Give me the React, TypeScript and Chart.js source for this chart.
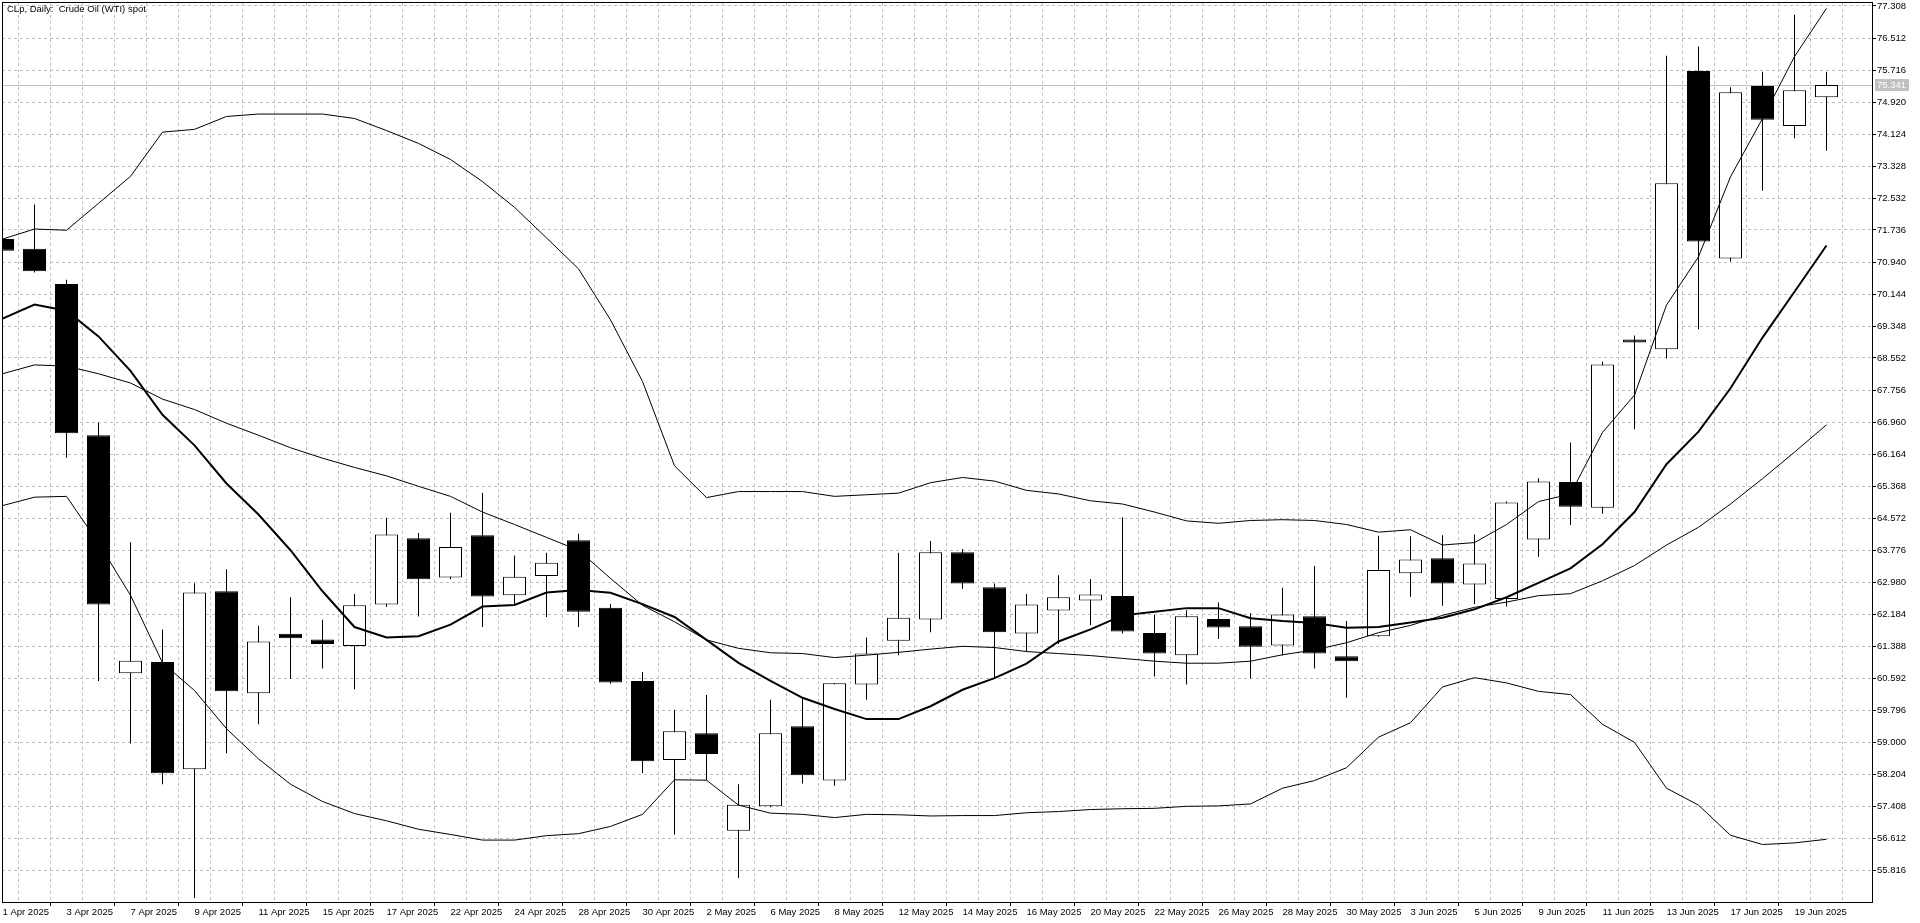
import React, { useEffect, useRef } from "react";
import { Chart, registerables } from "chart.js";

Chart.register(...registerables);

const TITLE = "CLp, Daily:  Crude Oil (WTI) spot";

const dates = [
  "1 Apr 2025", "2 Apr 2025", "3 Apr 2025", "4 Apr 2025", "7 Apr 2025", "8 Apr 2025", "9 Apr 2025",
  "10 Apr 2025", "11 Apr 2025", "14 Apr 2025", "15 Apr 2025", "16 Apr 2025", "17 Apr 2025", "21 Apr 2025",
  "22 Apr 2025", "23 Apr 2025", "24 Apr 2025", "25 Apr 2025", "28 Apr 2025", "29 Apr 2025", "30 Apr 2025",
  "1 May 2025", "2 May 2025", "5 May 2025", "6 May 2025", "7 May 2025", "8 May 2025", "9 May 2025",
  "12 May 2025", "13 May 2025", "14 May 2025", "15 May 2025", "16 May 2025", "19 May 2025", "20 May 2025",
  "21 May 2025", "22 May 2025", "23 May 2025", "26 May 2025", "27 May 2025", "28 May 2025", "29 May 2025",
  "30 May 2025", "2 Jun 2025", "3 Jun 2025", "4 Jun 2025", "5 Jun 2025", "6 Jun 2025", "9 Jun 2025",
  "10 Jun 2025", "11 Jun 2025", "12 Jun 2025", "13 Jun 2025", "16 Jun 2025", "17 Jun 2025", "18 Jun 2025",
  "19 Jun 2025", "20 Jun 2025",
];

const opens = [
  71.51, 71.27, 70.39, 66.63, 60.71, 60.99, 58.32, 62.75, 60.21, 61.69,
  61.55, 61.39, 62.42, 64.07, 63.09, 64.14, 62.65, 63.13, 64.02, 62.34,
  60.52, 58.55, 59.22, 56.79, 57.40, 59.39, 58.04, 60.43, 61.52, 62.05,
  63.72, 62.85, 61.70, 62.27, 62.52, 62.63, 61.71, 61.16, 62.06, 61.88,
  61.40, 62.13, 61.13, 61.63, 63.20, 63.57, 62.92, 62.56, 64.04, 65.47,
  64.83, 69.01, 68.77, 75.69, 71.03, 75.32, 74.32, 75.04,
];

const highs = [
  71.56, 72.37, 70.50, 66.95, 63.97, 61.80, 62.95, 63.30, 61.89, 62.60,
  62.04, 62.68, 64.58, 64.20, 64.70, 65.20, 63.64, 63.71, 64.18, 62.43,
  60.74, 59.80, 60.17, 57.95, 60.05, 60.10, 60.47, 61.60, 63.71, 64.00,
  63.80, 62.94, 62.68, 63.15, 63.05, 64.59, 62.16, 62.28, 62.47, 62.20,
  62.84, 63.38, 62.01, 64.13, 64.12, 64.14, 64.16, 64.98, 65.56, 66.45,
  68.46, 69.11, 76.07, 76.30, 75.29, 75.67, 77.09, 75.67,
];

const lows = [
  71.18, 70.68, 66.07, 60.52, 58.96, 57.95, 55.12, 58.72, 59.44, 60.57,
  60.83, 60.31, 62.36, 62.12, 63.05, 61.86, 62.43, 62.11, 61.86, 60.45,
  58.23, 56.70, 58.04, 55.62, 57.38, 57.97, 57.91, 60.05, 61.16, 61.73,
  62.81, 60.59, 61.25, 61.44, 61.91, 61.70, 60.63, 60.43, 61.56, 60.58,
  61.15, 60.83, 60.10, 61.62, 62.61, 62.39, 62.43, 62.37, 63.61, 64.40,
  64.68, 66.78, 68.54, 69.27, 70.95, 72.71, 74.02, 73.71,
];

const closes = [
  71.22, 70.71, 66.68, 62.42, 61.02, 58.22, 62.72, 60.26, 61.50, 61.58,
  61.44, 62.40, 64.16, 63.05, 63.85, 62.62, 63.11, 63.46, 62.24, 60.48,
  58.52, 59.27, 58.70, 57.44, 59.22, 58.17, 60.46, 61.20, 62.09, 63.72,
  62.94, 61.73, 62.42, 62.60, 62.67, 61.75, 61.20, 62.13, 61.85, 61.37,
  62.17, 61.20, 61.01, 63.28, 63.54, 62.94, 63.44, 64.96, 65.48, 64.85,
  68.39, 68.94, 72.90, 71.45, 75.16, 74.48, 75.21, 75.341,
];

const maLine = [
  69.53, 69.88, 69.73, 69.09, 68.23, 67.14, 66.38, 65.43, 64.66, 63.77,
  62.75, 61.86, 61.60, 61.63, 61.92, 62.37, 62.41, 62.72, 62.78, 62.71,
  62.43, 62.11, 61.54, 60.97, 60.52, 60.10, 59.82, 59.57, 59.57, 59.89,
  60.30, 60.59, 60.95, 61.50, 61.80, 62.15, 62.24, 62.33, 62.33, 62.08,
  62.01, 61.96, 61.84, 61.86, 61.97, 62.09, 62.30, 62.60, 62.96, 63.32,
  63.92, 64.72, 65.91, 66.72, 67.80, 69.06, 70.20, 71.35,
];

const bandUpper = [
  71.51, 71.76, 71.73, 72.40, 73.07, 74.17, 74.24, 74.56, 74.62, 74.62,
  74.62, 74.51, 74.21, 73.89, 73.49, 72.94, 72.30, 71.54, 70.77, 69.50,
  67.97, 65.87, 65.08, 65.23, 65.23, 65.23, 65.11, 65.15, 65.19, 65.45,
  65.58, 65.49, 65.26, 65.17, 65.00, 64.92, 64.72, 64.50, 64.44, 64.51,
  64.53, 64.51, 64.41, 64.22, 64.28, 63.90, 63.96, 64.41, 64.98, 65.17,
  66.70, 67.63, 69.87, 71.07, 73.06, 74.51, 76.05, 77.25,
];

const bandMiddle = [
  68.16, 68.38, 68.35, 68.16, 67.93, 67.53, 67.27, 66.93, 66.63, 66.32,
  66.06, 65.83, 65.62, 65.36, 65.11, 64.72, 64.41, 64.09, 63.77, 63.07,
  62.40, 61.99, 61.54, 61.33, 61.22, 61.20, 61.10, 61.16, 61.23, 61.31,
  61.38, 61.35, 61.25, 61.20, 61.15, 61.08, 61.01, 60.96, 60.96, 61.01,
  61.17, 61.29, 61.47, 61.72, 61.90, 62.15, 62.35, 62.48, 62.64, 62.69,
  63.01, 63.39, 63.90, 64.34, 64.92, 65.55, 66.21, 66.89,
];

const bandLower = [
  64.88, 65.09, 65.11, 63.95, 62.65, 60.97, 60.28, 59.33, 58.58, 57.95,
  57.52, 57.22, 57.04, 56.83, 56.70, 56.56, 56.56, 56.67, 56.72, 56.90,
  57.20, 58.06, 58.05, 57.43, 57.23, 57.20, 57.12, 57.20, 57.19, 57.16,
  57.17, 57.17, 57.24, 57.27, 57.32, 57.34, 57.35, 57.40, 57.41, 57.46,
  57.85, 58.04, 58.36, 59.12, 59.48, 60.37, 60.60, 60.47, 60.26, 60.18,
  59.44, 58.99, 57.85, 57.43, 56.68, 56.45, 56.49, 56.58,
];

const yTicks = [
  77.308, 76.512, 75.716, 74.92, 74.124, 73.328, 72.532, 71.736, 70.94, 70.144,
  69.348, 68.552, 67.756, 66.96, 66.164, 65.368, 64.572, 63.776, 62.98, 62.184,
  61.388, 60.592, 59.796, 59.0, 58.204, 57.408, 56.612, 55.816,
];

const lastPrice = 75.341;

const FONT = "'Liberation Sans', Arial, sans-serif";
const FONT_SIZE = 9.5;

export default function App() {
  const ref = useRef<HTMLCanvasElement | null>(null);

  useEffect(() => {
    if (!ref.current) return;
    const idx = dates.map((_, i) => i);
    const gridIdx = [...idx, dates.length];
    const bodies = idx.map((i) => ({ x: i, y: [opens[i], closes[i]] }));
    const wicks = idx.map((i) => ({ x: i, y: [lows[i], highs[i]] }));
    const bodyColors = idx.map((i) => (closes[i] >= opens[i] ? "#ffffff" : "#000000"));
    const toPts = (arr: number[]) => arr.map((v, i) => ({ x: i, y: v }));

    // one bar = 32px, first bar centre half a pixel right of plot's left edge
    const xMin = -0.5 / 32;
    const xMax = xMin + 1870 / 32;
    const pxPerUnit = 32 / 0.796;
    const yMax = yTicks[0] + 3 / pxPerUnit;
    const yMin = yMax - 899 / pxPerUnit;

    const overlay = {
      id: "mtOverlay",
      beforeDatasetsDraw(chart: any) {
        const { ctx, chartArea: a, scales } = chart;
        const py = Math.round(scales.y.getPixelForValue(lastPrice)) + 0.5;
        ctx.save();
        ctx.strokeStyle = "#c0c0c0";
        ctx.lineWidth = 1;
        ctx.setLineDash([]);
        ctx.beginPath();
        ctx.moveTo(a.left, py);
        ctx.lineTo(a.right, py);
        ctx.stroke();
        ctx.restore();
      },
      afterDraw(chart: any) {
        const { ctx, chartArea: a, scales } = chart;
        ctx.save();
        ctx.setLineDash([]);
        ctx.strokeStyle = "#000000";
        ctx.lineWidth = 1;
        ctx.strokeRect(a.left + 0.5, a.top - 0.5, a.right - a.left, a.bottom - a.top + 1);
        ctx.font = `${FONT_SIZE}px ${FONT}`;
        ctx.fillStyle = "#000000";
        ctx.textAlign = "left";
        ctx.textBaseline = "middle";
        ctx.fillText(TITLE, a.left + 5, a.top + 6);
        const py = Math.round(scales.y.getPixelForValue(lastPrice));
        ctx.fillStyle = "#c0c0c0";
        ctx.fillRect(a.right + 3, py - 6, 34, 12);
        ctx.fillStyle = "#ffffff";
        ctx.fillText(lastPrice.toFixed(3), a.right + 5, py + 0.5);
        ctx.restore();
      },
    };

    const lineDs = (data: number[], width: number) => ({
      type: "line" as const,
      data: toPts(data),
      borderColor: "#000000",
      borderWidth: width,
      pointRadius: 0,
      fill: false,
      tension: 0,
      order: 0,
      clip: 0,
    });

    const chart = new Chart(ref.current, {
      type: "bar",
      data: {
        datasets: [
          lineDs(bandUpper, 1),
          lineDs(bandMiddle, 1),
          lineDs(bandLower, 1),
          lineDs(maLine, 2),
          {
            type: "bar",
            data: bodies as any,
            backgroundColor: bodyColors,
            borderColor: "#000000",
            borderWidth: 1,
            borderSkipped: false,
            barThickness: 23,
            grouped: false,
            inflateAmount: 0,
            order: 1,
            clip: 0,
          } as any,
          {
            type: "bar",
            data: wicks as any,
            backgroundColor: "#000000",
            borderWidth: 0,
            barThickness: 1,
            grouped: false,
            inflateAmount: 0,
            order: 2,
            clip: 0,
          } as any,
        ],
      },
      options: {
        animation: false,
        responsive: true,
        maintainAspectRatio: false,
        devicePixelRatio: 1,
        events: [],
        layout: { padding: { left: 2, top: 3, right: 0, bottom: 0 } },
        plugins: {
          legend: { display: false },
          tooltip: { enabled: false },
          title: { display: false },
        },
        scales: {
          x: {
            type: "linear",
            position: "bottom",
            min: xMin,
            max: xMax,
            offset: false,
            afterBuildTicks: (s: any) => {
              s.ticks = gridIdx.map((v) => ({ value: v }));
            },
            afterFit: (s: any) => {
              s.height = 21;
              s.paddingLeft = 0;
              s.paddingRight = 0;
              s.paddingTop = 0;
              s.paddingBottom = 0;
            },
            grid: {
              color: "#c0c0c0",
              lineWidth: 1,
              drawTicks: true,
              tickLength: 4,
              tickWidth: 1,
              tickBorderDash: [],
              tickColor: (c: any) => (c.index % 2 === 0 && c.index < dates.length ? "#000000" : "rgba(0,0,0,0)"),
            },
            border: { display: false, dash: [3, 3] },
            ticks: {
              autoSkip: false,
              maxRotation: 0,
              minRotation: 0,
              align: "start",
              padding: 1,
              color: "#000000",
              font: { family: FONT, size: FONT_SIZE },
              callback: (v: any) => {
                const i = Math.round(Number(v));
                return i % 2 === 0 && i < dates.length ? dates[i] : "";
              },
            },
          } as any,
          y: {
            type: "linear",
            position: "right",
            min: yMin,
            max: yMax,
            afterBuildTicks: (s: any) => {
              s.ticks = yTicks.map((v) => ({ value: v }));
            },
            afterFit: (s: any) => {
              s.width = 48;
              s.paddingLeft = 0;
              s.paddingRight = 0;
              s.paddingTop = 0;
              s.paddingBottom = 0;
            },
            grid: {
              color: "#c0c0c0",
              lineWidth: 1,
              drawTicks: true,
              tickLength: 4,
              tickWidth: 1,
              tickBorderDash: [],
              tickColor: "#000000",
            },
            border: { display: false, dash: [3, 3] },
            ticks: {
              autoSkip: false,
              padding: 1,
              color: "#000000",
              font: { family: FONT, size: FONT_SIZE },
              callback: (v: any) => Number(v).toFixed(3),
            },
          } as any,
        },
      },
      plugins: [overlay],
    });

    return () => chart.destroy();
  }, []);

  return (
    <div style={{ position: "fixed", left: 0, top: 0, width: 1920, height: 923, background: "#ffffff" }}>
      <canvas ref={ref} />
    </div>
  );
}
